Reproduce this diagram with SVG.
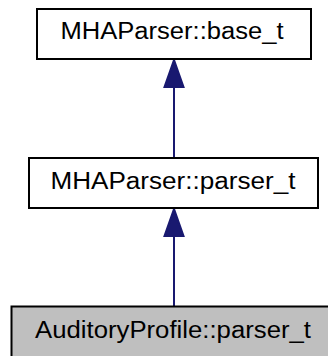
<svg xmlns="http://www.w3.org/2000/svg" width="328" height="356" viewBox="0 0 328 356">
<style>
.box{fill:#ffffff;stroke:#000000;stroke-width:2}
.cur{fill:#bfbfbf;stroke:#000000;stroke-width:2}
.lbl{font-family:"Liberation Sans",Arial,sans-serif;font-size:23px;fill:#000000;text-anchor:middle}
.edge{stroke:#191970;stroke-width:2;fill:none}
.head{fill:#191970;stroke:#191970;stroke-width:2}
</style>
<rect width="328" height="356" fill="#ffffff"/>
<g id="connectors">
<line class="edge" x1="174" y1="158" x2="174" y2="86"/>
<polygon class="head" points="174,60 164.5,87 183.5,87"/>
<line class="edge" x1="174" y1="306" x2="174" y2="236"/>
<polygon class="head" points="174,209 164.5,236 183.5,236"/>
</g>
<g id="node_base">
<rect class="box" x="37" y="9" width="274" height="50"/>
<text class="lbl" x="172" y="39" textLength="223" lengthAdjust="spacingAndGlyphs">MHAParser::base_t</text>
</g>
<g id="node_parser">
<rect class="box" x="29" y="158" width="289" height="50"/>
<text class="lbl" x="173" y="189" textLength="245" lengthAdjust="spacingAndGlyphs">MHAParser::parser_t</text>
</g>
<g id="node_auditory">
<rect class="cur" x="11.5" y="306.5" width="324" height="52"/>
<text class="lbl" x="173" y="338" textLength="276" lengthAdjust="spacingAndGlyphs">AuditoryProfile::parser_t</text>
</g>
</svg>
